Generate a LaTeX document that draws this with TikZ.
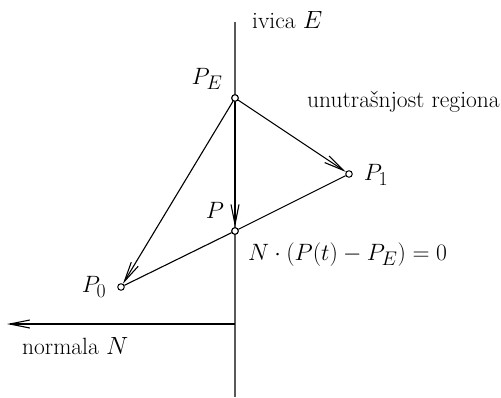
\documentclass[tikz,border=0pt]{standalone}
\usepackage{graphicx}
\usetikzlibrary{arrows.meta}
\newcommand{\mlab}[1]{\scalebox{0.95}{$#1$}}
\begin{document}
\begin{tikzpicture}[x=1pt,y=1pt,
  pt/.style={circle,draw=black,fill=white,line width=1pt,inner sep=0pt,minimum size=6.5pt},
  conn/.style={line width=1.1pt,black},
  arr/.style={conn,-{Straight Barb[length=20pt,width=8pt,line width=1.1pt]}},
  lbl/.style={inner sep=0pt,font=\fontsize{24.88}{30}\selectfont},
  txt/.style={inner sep=0pt,font=\fontsize{23.5}{28}\selectfont},
  edge/.style={line width=2pt,color=black!65}]
\useasboundingbox (0,0) rectangle (501,397);
\coordinate (top) at (235,375);
\coordinate (bot) at (235,0);
\coordinate (nstart) at (235,73);
\coordinate (nend) at (7,73);
\draw[edge] (top) -- (bot);
\node[pt] (PE) at (235,299) {};
\node[pt] (P) at (235,166) {};
\node[pt] (P1) at (349,223) {};
\node[pt] (P0) at (121,110) {};
\draw[conn] (P0) -- (P);
\draw[conn] (P) -- (P1);
\draw[arr] (PE) -- (P0);
\draw[arr] (PE) -- (P1);
\draw[arr] (PE) -- (P);
\draw[arr] (nstart) -- (nend);
\node[pt] at (PE) {};
\node[pt] at (P) {};
\node[txt,anchor=base west] (ivica) at (252,368) {ivica $E$};
\node[lbl] (lPE) at (207,318) {\mlab{P_E}};
\node[txt,anchor=base west] (unut) at (307,289) {unutrašnjost regiona};
\node[lbl] (lP1) at (376,222) {\mlab{P_1}};
\node[lbl] (lP) at (215,187) {\mlab{P}};
\node[lbl,anchor=base west] (eq) at (248,137) {\mlab{N\cdot(P(t)-P_E)=0}};
\node[lbl] (lP0) at (94,110) {\mlab{P_0}};
\node[txt,anchor=base west] (norm) at (22,43) {normala $N$};
\end{tikzpicture}
\end{document}
